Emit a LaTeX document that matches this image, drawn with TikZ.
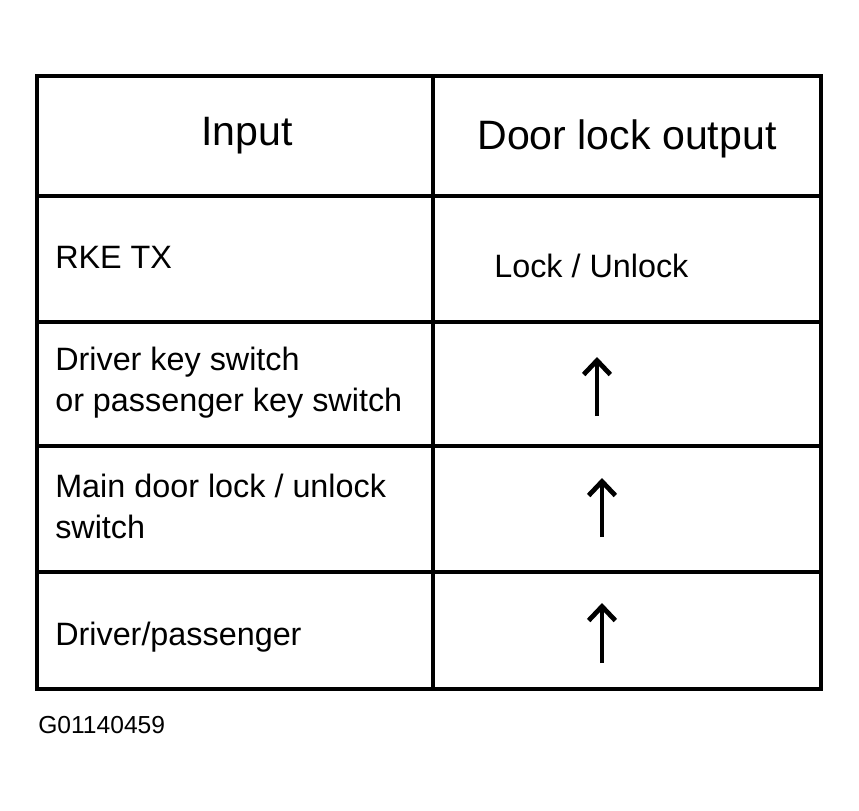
\documentclass[tikz,border=0pt]{standalone}
\usepackage{fontspec}
\setmainfont{Liberation Sans}
\usetikzlibrary{arrows.meta}

\tikzset{
  grid/.style={line width=2.2pt},
  head/.style={anchor=base, font=\fontsize{29.2}{34}\selectfont},
  cell/.style={anchor=base west, align=left, inner sep=0pt, font=\fontsize{23}{28.5}\selectfont},
  same/.style={line width=3.4pt, -{Straight Barb[length=10pt, width=19pt, line width=3.4pt]}}
}

\begin{document}
\begin{tikzpicture}[x=0.025cm, y=-0.025cm]
                \useasboundingbox (0,0) rectangle (859,810);

                \draw[grid] (37,76) rectangle (821,689);
                \draw[grid] (433,76) -- (433,689);
                \draw[grid] (37,196) -- (821,196);
                \draw[grid] (37,322) -- (821,322);
                \draw[grid] (37,446) -- (821,446);
                \draw[grid] (37,572) -- (821,572);

                \node[head] (In) at (247,145) {Input};
                \node[head] (Out) at (627,149) {Door lock output};

                \node[cell] (R1) at (55,268) {RKE TX};
                % two-line cells sit on the baseline of their last line
                \node[cell] (R2) at (55,411) {Driver key switch\\or passenger key switch};
                \node[cell] (R3) at (55,538) {Main door lock / unlock\\switch};
                \node[cell] (R4) at (55,645) {Driver/passenger};

                \node[cell] (O1) at (494,277) {Lock / Unlock};

                \coordinate (T2) at (597,416);
                \coordinate (H2) at (597,357);
                \coordinate (T3) at (602,537);
                \coordinate (H3) at (602,478);
                \coordinate (T4) at (602,663);
                \coordinate (H4) at (602,603);

                \draw[same] (T2) -- (H2);
                \draw[same] (T3) -- (H3);
                \draw[same] (T4) -- (H4);

                \node[cell, font=\fontsize{17.5}{21}\selectfont] (Fig) at (38,733) {G01140459};
            \end{tikzpicture}
\end{document}
